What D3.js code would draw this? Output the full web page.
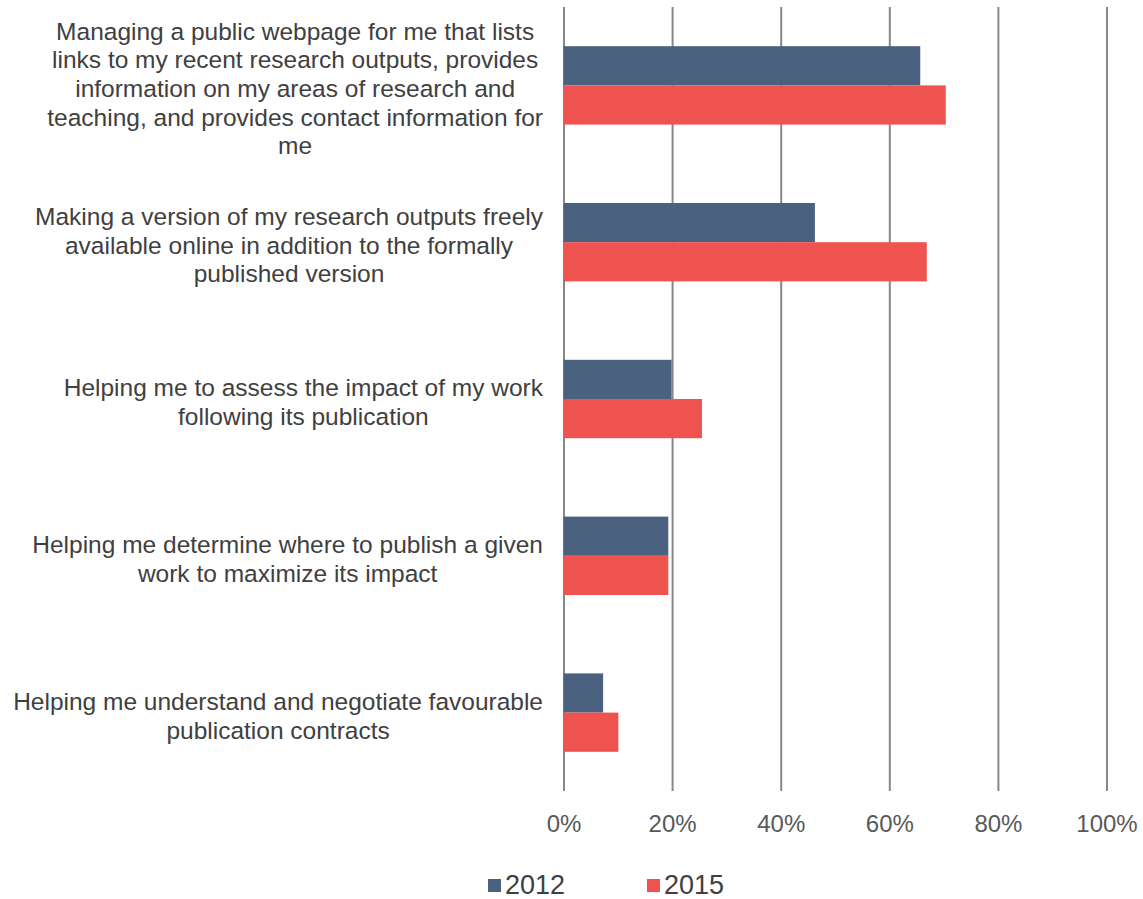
<!DOCTYPE html>
<html>
<head>
<meta charset="utf-8">
<script src="https://cdn.jsdelivr.net/npm/d3@7"></script>
<style>
  html, body { margin: 0; padding: 0; background: #fff; }
  svg { display: block; font-family: "Liberation Sans", Arial, sans-serif; }
</style>
</head>
<body>
<svg id="chart" width="1143" height="899"></svg>
<script>
// Survey items, each split into the lines shown on the axis
const categories = [
  ["Managing a public webpage for me that lists",
   "links to my recent research outputs, provides",
   "information on my areas of research and",
   "teaching, and provides contact information for",
   "me"],
  ["Making a version of my research outputs freely",
   "available online in addition to the formally",
   "published version"],
  ["Helping me to assess the impact of my work",
   "following its publication"],
  ["Helping me determine where to publish a given",
   "work to maximize its impact"],
  ["Helping me understand and negotiate favourable",
   "publication contracts"]
];
const series = ["2012", "2015"];
const values2012 = [65.7, 46.3, 19.9, 19.3, 7.3];
const values2015 = [70.4, 66.9, 25.5, 19.3, 10.1];
const xTicks = [0, 20, 40, 60, 80, 100];

const colors = { "2012": "#4b6180", "2015": "#ef5350" };

const svg = d3.select("#chart");
const plot = { left: 563.5, right: 1106.5, top: 7, bottom: 791 };

const x = d3.scaleLinear().domain([0, 100]).range([plot.left, plot.right]);
const y = d3.scaleBand().domain(d3.range(categories.length))
  .range([plot.top, plot.bottom]).paddingInner(0.5).paddingOuter(0.25);
const ySub = d3.scaleBand().domain(series).range([0, y.bandwidth()]);

// vertical gridlines
const grid = svg.append("g")
  .attr("transform", `translate(0,${plot.bottom})`)
  .call(d3.axisBottom(x).tickValues(xTicks).tickSize(-(plot.bottom - plot.top)).tickFormat(""));
grid.select(".domain").remove();
grid.selectAll(".tick line").attr("stroke", "#878787").attr("stroke-width", 2);

// tick labels
const ax = svg.append("g")
  .attr("transform", `translate(0,${plot.bottom})`)
  .call(d3.axisBottom(x).tickValues(xTicks).tickSize(0).tickPadding(24).tickFormat(d => d + "%"));
ax.select(".domain").remove();
ax.selectAll("text").attr("font-size", 24).attr("fill", "#595959")
  .attr("font-family", "Liberation Sans, Arial, sans-serif");

// bars
const rows = categories.map((c, i) => ({ i, vals: [
  { key: "2012", v: values2012[i] }, { key: "2015", v: values2015[i] }] }));
const g = svg.append("g").selectAll("g").data(rows).join("g")
  .attr("transform", d => `translate(0,${y(d.i)})`);
g.selectAll("rect").data(d => d.vals).join("rect")
  .attr("x", x(0))
  .attr("y", d => ySub(d.key))
  .attr("width", d => x(d.v) - x(0))
  .attr("height", ySub.bandwidth())
  .attr("fill", d => colors[d.key]);

// category labels: lines centred within a block whose right edge is fixed
const labelRight = 543;
const lineH = 28.7;
const lab = svg.append("g").attr("font-size", 24.5).attr("fill", "#404040");
categories.forEach((lines, i) => {
  const t = lab.append("text").attr("text-anchor", "middle");
  const cy = y(i) + y.bandwidth() / 2 + 3;
  const startY = cy - (lines.length - 1) * lineH / 2;
  lines.forEach((ln, k) => {
    t.append("tspan").attr("y", startY + k * lineH).attr("dy", "0.35em").text(ln);
  });
  let maxW = 0;
  t.selectAll("tspan").each(function () { maxW = Math.max(maxW, this.getComputedTextLength()); });
  t.selectAll("tspan").attr("x", labelRight - maxW / 2);
});

// legend
const leg = svg.append("g").selectAll("g").data(series).join("g")
  .attr("transform", (d, i) => `translate(${488 + i * 159},885)`);
leg.append("rect").attr("x", 0).attr("y", -6).attr("width", 13).attr("height", 13)
  .attr("fill", d => colors[d]);
leg.append("text").attr("x", 17).attr("dy", "0.35em").attr("font-size", 27)
  .attr("fill", "#404040").text(d => d);
</script>
</body>
</html>
